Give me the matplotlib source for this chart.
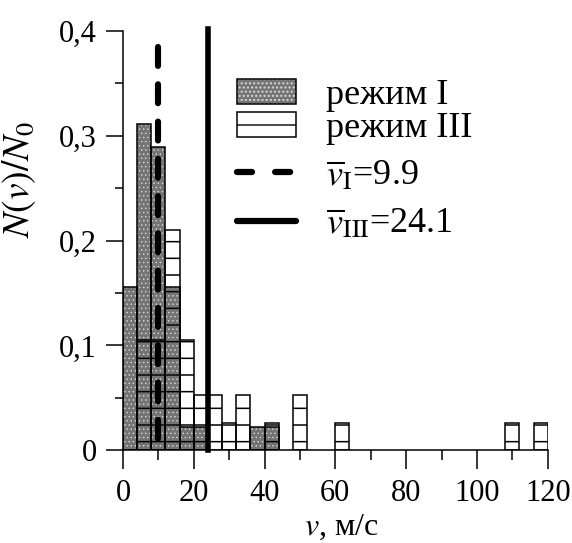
import matplotlib
matplotlib.use("Agg")
import matplotlib.pyplot as plt
from matplotlib.patches import Patch
from matplotlib.lines import Line2D
from matplotlib.legend_handler import HandlerTuple

# Histogram data (bin width 4 m/s, left edges)
bin_width = 4
regime1_left = [0, 4, 8, 12, 16, 20, 36, 40]
regime1_vals = [0.156, 0.311, 0.289, 0.156, 0.022, 0.022, 0.022, 0.022]
regime3_left = [4, 8, 12, 16, 20, 24, 28, 32, 40, 48, 60, 108, 116]
regime3_vals = [0.105, 0.105, 0.21, 0.105, 0.053, 0.053, 0.026, 0.053,
                0.026, 0.053, 0.026, 0.026, 0.026]
mean1 = 9.9
mean3 = 24.1
mean1_top = 0.385
mean3_top = 0.402

xticks = [0, 20, 40, 60, 80, 100, 120]
yticks = [0, 0.1, 0.2, 0.3, 0.4]
ytick_labels = ["0", "0,1", "0,2", "0,3", "0,4"]
bar_labels = ["режим I", "режим III"]
line_labels = [r"$\overline{v}_{\rm I}$=9.9", r"$\overline{v}_{\rm III}$=24.1"]

plt.rcParams["font.family"] = ["Liberation Serif", "DejaVu Serif"]
plt.rcParams["mathtext.fontset"] = "stix"
plt.rcParams["font.size"] = 22

GREY_FACE = "#747474"
GREY_DOTS = "#d8d8d8"

fig = plt.figure(figsize=(5.72, 5.43), dpi=100)
ax = fig.add_axes([0.215, 0.171, 0.7425, 0.772])

# regime I: grey dotted bars
with plt.rc_context({"hatch.linewidth": 0.5}):
    ax.bar(regime1_left, regime1_vals, width=bin_width, align="edge",
           facecolor=GREY_FACE, edgecolor=GREY_DOTS, hatch="....", linewidth=0)
ax.bar(regime1_left, regime1_vals, width=bin_width, align="edge",
       fill=False, edgecolor="black", linewidth=1.1)

# regime III: transparent bars with horizontal lines
with plt.rc_context({"hatch.linewidth": 1.1}):
    ax.bar(regime3_left, regime3_vals, width=bin_width, align="edge",
           fill=False, edgecolor="black", hatch="-", linewidth=1.1)

# mean velocities
ax.plot([mean1, mean1], [mean1_top, 0], color="black", lw=4.4, dashes=(3.1, 3.0),
        dash_capstyle="round", clip_on=False)
ax.plot([mean3, mean3], [0, mean3_top], color="black", lw=4, clip_on=False)

ax.set_xlim(0, 120)
ax.set_ylim(0, 0.4)
ax.set_xticks(xticks)
ax.set_xticks(range(10, 120, 20), minor=True)
ax.set_yticks(yticks)
ax.set_yticklabels(ytick_labels)
ax.set_yticks([0.05, 0.15, 0.25, 0.35], minor=True)
ax.tick_params(axis="x", which="major", direction="out", length=14, width=1.1, pad=7)
ax.tick_params(axis="x", which="minor", direction="out", length=7, width=1.1)
ax.tick_params(axis="y", which="major", direction="out", length=12, width=1.1, pad=7)
ax.tick_params(axis="y", which="minor", direction="out", length=6, width=1.1)
for side in ["top", "right"]:
    ax.spines[side].set_visible(False)
for side in ["left", "bottom"]:
    ax.spines[side].set_linewidth(1.1)

ax.set_ylabel(r"$N(v)/N_0$", fontsize=27)
ax.yaxis.set_label_coords(-0.20, 0.647)
ax.set_xlabel(r"$v$, м/с", fontsize=23)
ax.xaxis.set_label_coords(0.513, -0.148)

# legends: bar patches and mean lines
h1 = (Patch(facecolor=GREY_FACE, edgecolor=GREY_DOTS, hatch="....", linewidth=0),
      Patch(fill=False, edgecolor="black", linewidth=1.1))
h2 = Patch(fill=False, edgecolor="black", hatch="-", linewidth=1.1)
h3 = Line2D([], [], color="black", lw=4.5, dashes=(2.4, 3.7), dash_capstyle="round")
h4 = Line2D([], [], color="black", lw=4.5, solid_capstyle="round")
leg_kw = dict(loc="upper left", frameon=False, fontsize=26,
              handlelength=1.64, handleheight=0.7, handletextpad=0.83,
              borderaxespad=0, borderpad=0)
leg1 = ax.legend([h1, h2], bar_labels,
                 handler_map={tuple: HandlerTuple(ndivide=1, pad=0)},
                 bbox_to_anchor=(0.268, 0.886), labelspacing=0.0, **leg_kw)
ax.add_artist(leg1)
ax.legend([h3, h4], line_labels, bbox_to_anchor=(0.268, 0.694),
          labelspacing=0.4, **leg_kw)

fig.savefig("out.png", dpi=100)
